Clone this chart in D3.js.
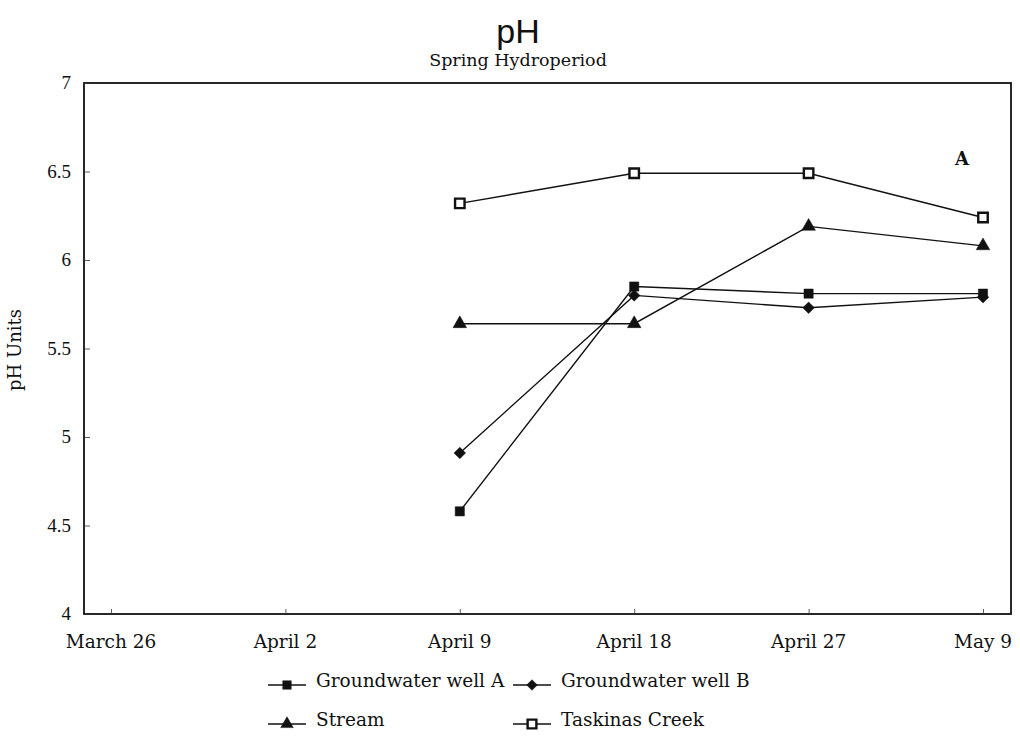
<!DOCTYPE html>
<html>
<head>
<meta charset="utf-8">
<script src="https://cdn.jsdelivr.net/npm/d3@7"></script>
<style>
  body { margin: 0; background: #fff; }
  svg { display: block; }
  .serif { font-family: "DejaVu Serif", "Liberation Serif", serif; fill: #111; }
</style>
</head>
<body>
<svg id="chart" width="1020" height="742"></svg>
<script>
// Sampling dates (category axis)
const dates = ["March 26", "April 2", "April 9", "April 18", "April 27", "May 9"];
const sampled = ["April 9", "April 18", "April 27", "May 9"];

// pH readings per site
const wellA = [4.58, 5.85, 5.81, 5.81];
const wellB = [4.91, 5.80, 5.73, 5.79];
const stream = [5.64, 5.64, 6.19, 6.08];
const taskinas = [6.32, 6.49, 6.49, 6.24];

const yTicks = [4, 4.5, 5, 5.5, 6, 6.5, 7];

const series = [
  { name: "Groundwater well A", values: wellA, symbol: d3.symbolSquare, size: 85, filled: true },
  { name: "Groundwater well B", values: wellB, symbol: d3.symbolDiamond2, size: 85, filled: true },
  { name: "Stream", values: stream, symbol: d3.symbolTriangle, size: 80, filled: true },
  { name: "Taskinas Creek", values: taskinas, symbol: d3.symbolSquare, size: 90, filled: false }
];

const svg = d3.select("#chart");
const box = { left: 84, right: 1011, top: 83, bottom: 614 };

const x = d3.scalePoint().domain(dates).range([111, 983]);
const y = d3.scaleLinear().domain([4, 7]).range([box.bottom, box.top]);

// Titles
svg.append("text")
  .attr("x", 518).attr("y", 43)
  .attr("text-anchor", "middle")
  .style("font-family", "'Liberation Sans', Arial, sans-serif")
  .style("font-size", "34px")
  .style("fill", "#111")
  .text("pH");
svg.append("text")
  .attr("class", "serif")
  .attr("x", 518).attr("y", 66)
  .attr("text-anchor", "middle")
  .style("font-size", "17.5px")
  .text("Spring Hydroperiod");

// Plot frame
svg.append("rect")
  .attr("x", box.left).attr("y", box.top)
  .attr("width", box.right - box.left).attr("height", box.bottom - box.top)
  .attr("fill", "none").attr("stroke", "#111").attr("stroke-width", 1.8);

// Y axis: short inward ticks, labels to the left
const yAxis = svg.append("g").attr("transform", `translate(${box.left},0)`)
  .call(d3.axisRight(y).tickValues(yTicks).tickSize(6).tickFormat(""));
yAxis.select(".domain").remove();
yAxis.selectAll("line").attr("stroke", "#333").attr("stroke-width", 0.8);
svg.append("g").selectAll("text").data(yTicks).join("text")
  .attr("x", 71).attr("y", d => y(d) + 6)
  .attr("text-anchor", "end")
  .style("font-family", "'Liberation Serif', serif")
  .style("font-size", "19px")
  .style("fill", "#111")
  .text(d => d3.format("~g")(d));

// X axis: inward ticks at the bottom
const xAxis = svg.append("g").attr("transform", `translate(0,${box.bottom})`)
  .call(d3.axisTop(x).tickSize(5).tickFormat(""));
xAxis.select(".domain").remove();
xAxis.selectAll("line").attr("stroke", "#333").attr("stroke-width", 0.8);
svg.append("g").selectAll("text").data(dates).join("text")
  .attr("class", "serif")
  .attr("x", d => x(d)).attr("y", 648)
  .attr("text-anchor", "middle")
  .style("font-size", "18.5px")
  .text(d => d);

// Y axis title
svg.append("text")
  .attr("class", "serif")
  .attr("transform", "translate(21,350) rotate(-90)")
  .attr("text-anchor", "middle")
  .style("font-size", "18px")
  .text("pH Units");

// Panel letter
svg.append("text")
  .attr("class", "serif")
  .attr("x", 962).attr("y", 165)
  .attr("text-anchor", "middle")
  .style("font-size", "18px")
  .style("font-weight", "bold")
  .text("A");

// Lines and markers
const line = d3.line().x((d, i) => x(sampled[i])).y(d => y(d));
const marks = svg.append("g");
series.forEach(s => {
  marks.append("path")
    .attr("d", line(s.values))
    .attr("fill", "none").attr("stroke", "#111").attr("stroke-width", 1.4);
});
series.forEach(s => {
  marks.append("g").selectAll("path").data(s.values).join("path")
    .attr("transform", (d, i) => `translate(${x(sampled[i])},${y(d)})`)
    .attr("d", d3.symbol().type(s.symbol).size(s.size))
    .attr("fill", s.filled ? "#111" : "#fff")
    .attr("stroke", "#111")
    .attr("stroke-width", s.filled ? 0.5 : 2.4);
});

// Legend
const legendPos = [
  { lx: 268, ly: 685 },
  { lx: 513, ly: 685 },
  { lx: 268, ly: 724 },
  { lx: 513, ly: 724 }
];
const legend = svg.append("g");
series.forEach((s, i) => {
  const p = legendPos[i];
  const g = legend.append("g").attr("transform", `translate(${p.lx},${p.ly})`);
  g.append("line").attr("x1", 0).attr("x2", 38).attr("y1", 0).attr("y2", 0)
    .attr("stroke", "#111").attr("stroke-width", 1.4);
  g.append("path")
    .attr("transform", "translate(19,0)")
    .attr("d", d3.symbol().type(s.symbol).size(s.size * 0.85))
    .attr("fill", s.filled ? "#111" : "#fff")
    .attr("stroke", "#111")
    .attr("stroke-width", s.filled ? 0.5 : 2.4);
  g.append("text")
    .attr("class", "serif")
    .attr("x", 48).attr("y", 2)
    .style("font-size", "18.5px")
    .text(s.name);
});
</script>
</body>
</html>
